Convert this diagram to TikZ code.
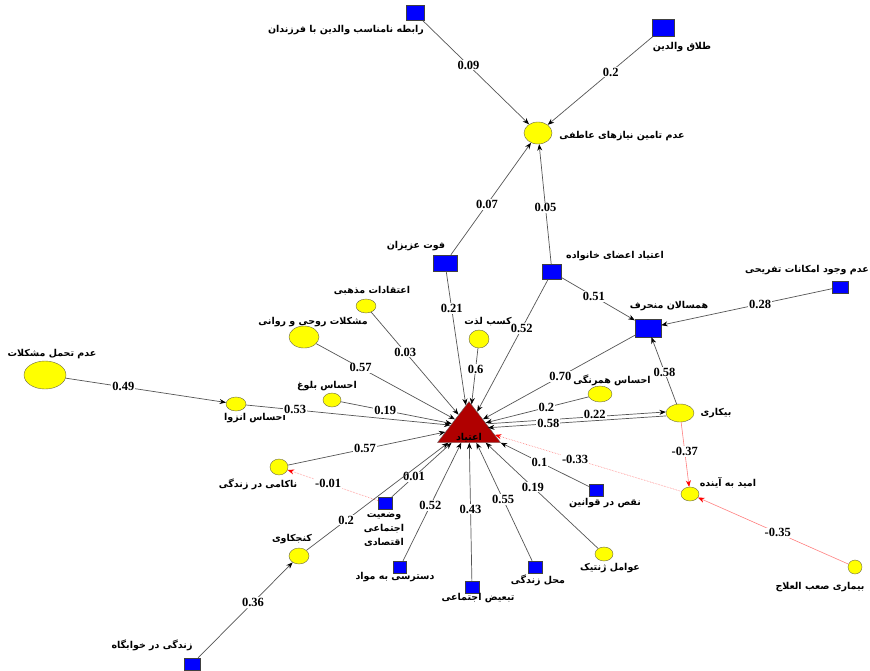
\documentclass[tikz,border=0pt]{standalone}
\usepackage{fontspec}
\usetikzlibrary{arrows.meta,shapes.geometric}
\TeXXeTstate=1
\newfontfamily\fafont[Script=Arabic]{DejaVu Sans}
\newfontfamily\numfont{Liberation Serif}
\newcommand{\fa}[1]{{\fafont\bfseries\beginR #1\endR}}
\definecolor{edgegray}{HTML}{555555}
\definecolor{negred}{HTML}{FF8080}
\definecolor{trired}{HTML}{B00000}
\definecolor{yel}{HTML}{FFFF00}
\definecolor{blu}{HTML}{0000FF}
\begin{document}
\begin{tikzpicture}[x=1pt,y=-1pt,
  sq/.style={rectangle,draw=black!75,fill=blu,inner sep=0pt},
  ell/.style={ellipse,draw=black!45!yellow!60!black,fill=yel,inner sep=0pt},
  lbl/.style={inner sep=0pt,font=\fontsize{9.5}{14}\selectfont},
  wt/.style={fill=white,inner sep=1pt,font=\numfont\bfseries\fontsize{12.5}{13}\selectfont},
  arr/.style={draw=edgegray,line width=0.7pt,-{Stealth[length=6.5pt,width=5pt,color=black]}},
  neg/.style={draw=negred,line width=0.6pt,-{Stealth[length=6.5pt,width=5pt,color=red]}}]
\useasboundingbox (0,0) rectangle (870,670);
\fill[white] (0,0) rectangle (870,670);

% nodes
\node[sq,minimum width=18,minimum height=15] (rab) at (415,13) {};
\node[sq,minimum width=22,minimum height=17] (tal) at (663,28) {};
\node[ell,minimum width=28,minimum height=22] (ata) at (538,133) {};
\node[sq,minimum width=24,minimum height=16] (fot) at (445,263) {};
\node[sq,minimum width=19,minimum height=15] (eaz) at (552,272) {};
\node[ell,minimum width=20,minimum height=14] (mazh) at (366,306) {};
\node[ell,minimum width=30,minimum height=22] (rav) at (304,337) {};
\node[ell,minimum width=20,minimum height=18] (lez) at (479,339) {};
\node[sq,minimum width=26,minimum height=18] (ham) at (648,328) {};
\node[sq,minimum width=16,minimum height=12] (taf) at (840,287) {};
\node[ell,minimum width=42,minimum height=28] (tah) at (45,375) {};
\node[ell,minimum width=20,minimum height=14] (enz) at (236,404) {};
\node[ell,minimum width=18,minimum height=14] (bol) at (332,400) {};
\node[ell,minimum width=24,minimum height=16] (hmr) at (600,394) {};
\node[ell,minimum width=28,minimum height=18] (bik) at (680,413) {};
\node[ell,minimum width=18,minimum height=16] (nak) at (279,467) {};
\node[ell,minimum width=18,minimum height=14] (omid) at (690,494) {};
\node[sq,minimum width=14,minimum height=12] (vaz) at (385,503) {};
\node[sq,minimum width=14,minimum height=12] (naqs) at (596,490) {};
\node[ell,minimum width=20,minimum height=16] (konj) at (299,556) {};
\node[sq,minimum width=13,minimum height=12] (dast) at (400,567) {};
\node[ell,minimum width=18,minimum height=14] (zhen) at (604,554) {};
\node[sq,minimum width=14,minimum height=12] (mahal) at (535,567) {};
\node[sq,minimum width=14,minimum height=12] (tab) at (472,587) {};
\node[ell,minimum width=14,minimum height=14] (bim) at (855,567) {};
\node[sq,minimum width=16,minimum height=12] (khab) at (192,664) {};
\node[isosceles triangle,shape border rotate=90,isosceles triangle stretches,
      minimum width=63,minimum height=41,inner sep=0pt,fill=trired,draw=black!60] (add) at (469,427) {};

% texts
\node[lbl] (t-rab) at (346,30) {\fa{رابطه نامناسب والدین با فرزندان}};
\node[lbl] (t-tal) at (682,47) {\fa{طلاق والدین}};
\node[lbl] (t-ata) at (622,136) {\fa{عدم تامین نیازهای عاطفی}};
\node[lbl] (t-fot) at (416,246) {\fa{فوت عزیزان}};
\node[lbl] (t-eaz) at (615,256) {\fa{اعتیاد اعضای خانواده}};
\node[lbl] (t-mazh) at (372,291) {\fa{اعتقادات مذهبی}};
\node[lbl] (t-rav) at (313,322) {\fa{مشکلات روحی و روانی}};
\node[lbl] (t-lez) at (488,322) {\fa{کسب لذت}};
\node[lbl] (t-ham) at (669,306) {\fa{همسالان منحرف}};
\node[lbl] (t-taf) at (807,270) {\fa{عدم وجود امکانات تفریحی}};
\node[lbl] (t-tah) at (52,354) {\fa{عدم تحمل مشکلات}};
\node[lbl] (t-enz) at (255,418) {\fa{احساس انزوا}};
\node[lbl] (t-bol) at (327,386) {\fa{احساس بلوغ}};
\node[lbl] (t-hmr) at (612,380) {\fa{احساس همرنگی}};
\node[lbl] (t-bik) at (716,413) {\fa{بیکاری}};
\node[lbl] (t-add) at (469,438) {\fa{اعتیاد}};
\node[lbl] (t-nak) at (258,484) {\fa{ناکامی در زندگی}};
\node[lbl] (t-omid) at (728,483) {\fa{امید به آینده}};
\node[lbl,align=center] (t-vaz) at (384,530) {\fa{وضعیت}\\\fa{اجتماعی}\\\fa{اقتصادی}};
\node[lbl] (t-naqs) at (605,503) {\fa{نقص در قوانین}};
\node[lbl] (t-konj) at (292,539) {\fa{کنجکاوی}};
\node[lbl] (t-dast) at (395,577) {\fa{دسترسی به مواد}};
\node[lbl] (t-zhen) at (610,568) {\fa{عوامل ژنتیک}};
\node[lbl] (t-mahal) at (538,580) {\fa{محل زندگی}};
\node[lbl] (t-tab) at (478,598) {\fa{تبعیض اجتماعی}};
\node[lbl] (t-bim) at (820,587) {\fa{بیماری صعب العلاج}};
\node[lbl] (t-khab) at (152,645) {\fa{زندگی در خوابگاه}};

% edges
\draw[arr] (rab) -- node[wt,pos=0.43] {0.09} (ata);
\draw[arr] (tal) -- node[wt,pos=0.40] {0.2} (ata);
\draw[arr] (fot) -- node[wt,pos=0.45] {0.07} (ata);
\draw[arr] (eaz) -- node[wt,pos=0.47] {0.05} (ata);
\draw[arr] (fot) -- node[wt,pos=0.28] {0.21} (add);
\draw[arr] (eaz) -- node[wt,pos=0.37] {0.52} (add);
\draw[arr] (eaz) -- node[wt,pos=0.44] {0.51} (ham);
\draw[arr] (taf) -- node[wt,pos=0.42] {0.28} (ham);
\draw[arr] (ham) -- node[wt,pos=0.49] {0.70} (add);
\draw[arr] (bik) -- node[wt,pos=0.48] {0.58} (ham);
\draw[arr] (mazh) -- node[wt,pos=0.39] {0.03} (add);
\draw[arr] (rav) -- node[wt,pos=0.32] {0.57} (add);
\draw[arr] (lez) -- node[wt,pos=0.37] {0.6} (add);
\draw[arr] (tah) -- node[wt,pos=0.36] {0.49} (enz);
\draw[arr] (enz) -- node[wt,pos=0.24] {0.53} (add);
\draw[arr] (bol) -- node[wt,pos=0.40] {0.19} (add);
\draw[arr] (hmr) -- node[wt,pos=0.41] {0.2} (add);
\draw[arr,transform canvas={yshift=2pt}] (add) -- node[wt,pos=0.6,yshift=2pt] {0.22} (bik);
\draw[arr,transform canvas={yshift=-2pt}] (bik) -- node[wt,pos=0.66] {0.58} (add);
\draw[arr] (nak) -- node[wt,pos=0.49] {0.57} (add);
\draw[neg,densely dotted] (vaz) -- node[wt,pos=0.55] {-0.01} (nak);
\draw[arr] (vaz) -- node[wt,pos=0.37] {0.01} (add);
\draw[arr] (konj) -- node[wt,pos=0.28] {0.2} (add);
\draw[arr] (khab) -- node[wt,pos=0.58] {0.36} (konj);
\draw[arr] (dast) -- node[wt,pos=0.47] {0.52} (add);
\draw[arr] (tab) -- node[wt,pos=0.52] {0.43} (add);
\draw[arr] (mahal) -- node[wt,pos=0.52] {0.55} (add);
\draw[arr] (zhen) -- node[wt,pos=0.58] {0.19} (add);
\draw[arr] (naqs) -- node[wt,pos=0.56] {0.1} (add);
\draw[neg,densely dotted] (omid) -- node[wt,pos=0.57] {-0.33} (add);
\draw[neg] (bik) -- node[wt,pos=0.45] {-0.37} (omid);
\draw[neg] (bim) -- node[wt,pos=0.47] {-0.35} (omid);
\end{tikzpicture}
\end{document}
